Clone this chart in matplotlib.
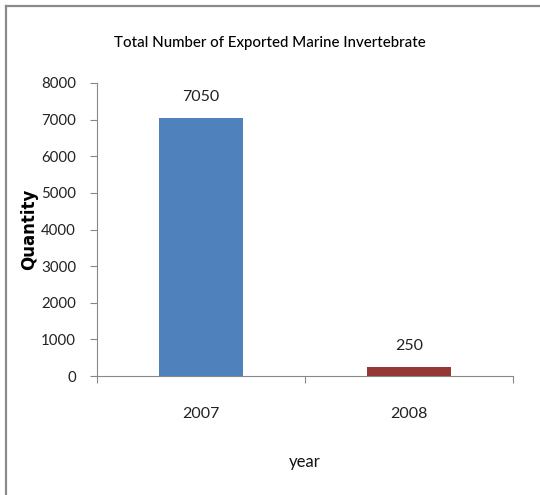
import matplotlib
matplotlib.use("Agg")
import matplotlib.pyplot as plt
from matplotlib.lines import Line2D

years = ["2007", "2008"]
quantities = [7050, 250]
bar_colors = ["#4F81BD", "#953735"]
y_ticks = [0, 1000, 2000, 3000, 4000, 5000, 6000, 7000, 8000]

plt.rcParams["font.family"] = ["Lato", "DejaVu Sans"]

fig = plt.figure(figsize=(5.4, 4.95), dpi=100)
ax = fig.add_axes([97 / 540, 1 - 376 / 495, (513 - 97) / 540, (376 - 83) / 495])

x = range(len(years))
ax.bar(x, quantities, width=0.4, color=bar_colors)
for xi, v in zip(x, quantities):
    ax.text(xi, v + 380, str(v), ha="center", va="bottom", fontsize=11.5, color="#222222")

ax.set_xlim(-0.5, len(years) - 0.5)
ax.set_ylim(0, 8000)
ax.set_yticks(y_ticks)
ax.set_yticklabels([str(t) for t in y_ticks], fontsize=10.8, color="#222222")
ax.set_xticks([-0.5, 0.5, 1.5])
ax.set_xticklabels(["", "", ""])
ax.set_xticks(list(x), minor=True)
ax.set_xticklabels(years, minor=True, fontsize=11.5, color="#222222")
ax.tick_params(axis="x", which="minor", length=0, pad=22)
ax.tick_params(axis="x", which="major", length=5, color="#888888")
ax.tick_params(axis="y", length=5, color="#888888", pad=10)

for s in ["top", "right"]:
    ax.spines[s].set_visible(False)
for s in ["left", "bottom"]:
    ax.spines[s].set_color("#888888")
    ax.spines[s].set_linewidth(0.8)

ax.set_ylabel("Quantity", fontsize=12, fontweight="bold", family=["DejaVu Sans"])
ax.yaxis.set_label_coords(-0.142, 0.5)
fig.text(305 / 540, 1 - 462 / 495, "year", ha="center", va="center", fontsize=12, color="#111111")
fig.text(270 / 540, 1 - 43 / 495, "Total Number of Exported Marine Invertebrate",
         ha="center", va="center", fontsize=10.8, fontweight="medium", color="#000000")

# outer frame lines (top and left)
fig.add_artist(Line2D([6 / 540, 1.0], [1 - 6 / 495, 1 - 6 / 495], transform=fig.transFigure,
                      color="#8a8a8a", linewidth=1.6))
fig.add_artist(Line2D([6 / 540, 6 / 540], [0, 1 - 6 / 495], transform=fig.transFigure,
                      color="#8a8a8a", linewidth=1.6))

fig.savefig("out.png", dpi=100)
